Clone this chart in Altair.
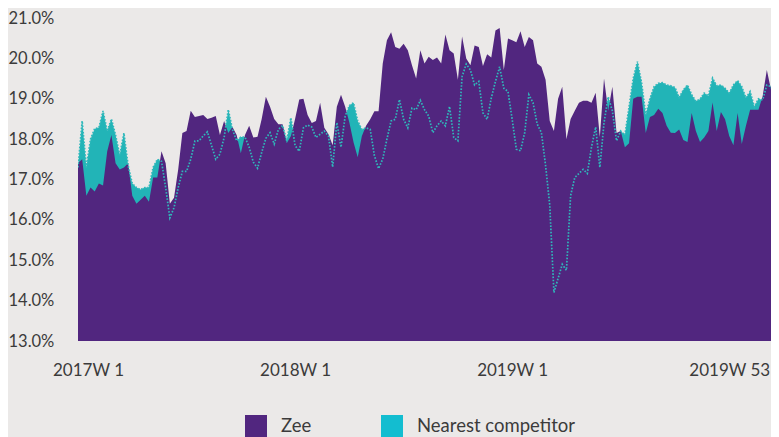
import altair as alt
import pandas as pd

# Weekly share (%), 2017W1 onward
zee = [17.4, 17.5, 16.6, 16.8, 16.7, 16.9, 16.85, 17.7, 18.1, 17.4,
       17.25, 17.3, 17.4, 16.6, 16.4, 16.5, 16.6, 16.45, 17.05, 17.05,
       17.7, 17.4, 16.4, 16.55, 17.25, 18.15, 18.2, 18.7, 18.55, 18.57,
       18.6, 18.5, 18.53, 18.57, 18.1, 18.45, 18.15, 18.3, 18.1, 17.65,
       18.1, 18.33, 18.04, 18.06, 18.5, 19.05, 18.8, 18.5, 18.37, 18.37,
       17.9, 18.08, 18.5, 18.98, 19.0, 18.6, 18.4, 18.45, 18.9, 18.28,
       18.12, 17.85, 18.8, 19.1, 18.8, 18.41, 17.92, 17.55, 18.08, 18.33,
       18.49, 18.69, 18.69, 19.87, 20.45, 20.65, 20.28, 20.24, 20.36, 20.2,
       19.83, 19.5, 20.2, 19.87, 20.04, 19.96, 20.02, 19.87, 20.59, 20.2,
       20.12, 19.47, 20.54, 20.0, 19.83, 20.32, 20.28, 19.81, 20.1, 20.02,
       20.69, 20.75, 19.71, 20.49, 20.45, 20.4, 20.67, 20.28, 20.53, 20.45,
       19.87, 19.79, 19.47, 18.45, 18.2, 19.0, 19.3, 18.0, 18.5, 18.7,
       18.9, 18.95, 18.95, 18.9, 19.15, 18.05, 19.5, 18.7, 19.3, 18.15,
       18.2, 17.8, 17.9, 19.0, 19.05, 19.05, 18.15, 18.55, 18.6, 18.75,
       18.65, 18.33, 18.16, 18.15, 18.24, 17.98, 17.93, 18.65, 18.2, 17.93,
       18.04, 18.2, 18.91, 18.2, 18.67, 18.49, 18.08, 17.85, 18.65, 17.88,
       18.33, 18.73, 18.73, 18.73, 19.06, 19.71, 19.22, 19.26, 19.18]

competitor = [17.3, 18.45, 17.3, 18.0, 18.26, 18.28, 18.7, 18.2, 18.5, 18.1,
              17.6, 18.15, 17.35, 16.9, 16.8, 16.75, 16.8, 16.8, 17.3, 17.5,
              17.45, 16.8, 16.05, 16.3, 16.8, 17.2, 17.2, 17.5, 17.95, 17.96,
              18.08, 18.18, 17.84, 17.5, 17.63, 18.04, 18.73, 18.24, 17.96, 18.05,
              18.05, 17.8, 17.43, 17.28, 17.67, 18.02, 18.16, 17.88, 18.24, 18.34,
              17.96, 18.53, 17.84, 17.7, 18.28, 18.35, 18.3, 18.04, 18.12, 18.2,
              18.08, 17.31, 18.41, 17.8, 18.57, 18.83, 18.9, 18.45, 18.24, 18.28,
              18.24, 17.59, 17.27, 17.51, 18.0, 18.45, 18.49, 18.98, 18.49, 18.28,
              18.77, 18.73, 18.96, 18.73, 18.57, 18.16, 18.33, 18.45, 18.33, 18.81,
              18.04, 17.96, 19.55, 19.86, 19.71, 19.34, 19.43, 18.65, 18.49, 19.02,
              19.43, 19.79, 19.26, 19.18, 18.49, 17.75, 17.71, 18.16, 19.1, 18.9,
              18.37, 18.16, 17.35, 16.37, 14.2, 14.55, 14.9, 14.75, 16.6, 17.05,
              17.15, 17.25, 17.15, 17.8, 18.3, 17.3, 18.4, 19.05, 18.7, 17.96,
              18.2, 18.1, 18.8, 19.5, 19.92, 19.4, 18.6, 19.0, 19.3, 19.38,
              19.4, 19.34, 19.32, 19.28, 19.03, 19.22, 19.34, 19.1, 18.94, 18.99,
              19.14, 19.07, 19.51, 19.32, 19.34, 19.26, 19.14, 19.34, 19.45, 19.3,
              19.02, 19.18, 18.8, 19.0, 18.97, 19.34, 19.3, 19.3, 19.14]

# axis label positions (week index) and texts
tick_weeks = [2.4, 52, 104, 156]
tick_labels = ["2017W 1", "2018W 1", "2019W 1", "2019W 53"]
y_ticks = [13, 14, 15, 16, 17, 18, 19, 20, 21]
series_names = ["Zee", "Nearest competitor"]
legend_colors = ["#51267F", "#13BDD0"]

FONT = "Lato"
TXT = "#3b3b3b"

df = pd.DataFrame({"week": list(range(len(zee))), "zee": zee, "comp": competitor})

label_expr = "''"
for w, lab in reversed(list(zip(tick_weeks, tick_labels))):
    label_expr = f"datum.value == {w} ? '{lab}' : ({label_expr})"

x_enc = alt.X(
    "week:Q",
    scale=alt.Scale(domain=[0, 166], nice=False, zero=False),
    axis=alt.Axis(values=tick_weeks, labelExpr=label_expr, grid=False, ticks=False,
                  domain=False, title=None, labelPadding=21, labelFontSize=17,
                  labelFont=FONT, labelColor=TXT, labelFlush=False),
)
y_scale = alt.Scale(domain=[13, 21], nice=False, zero=False)
y_axis = alt.Axis(values=y_ticks, labelExpr="format(datum.value, '.1f') + '%'",
                  grid=False, ticks=False, domain=False, title=None,
                  labelAlign="left", labelPadding=70, labelFontSize=16.5,
                  labelFont=FONT, labelColor=TXT)

comp_area = alt.Chart(df).mark_area(color="#22B4B7", clip=True).encode(
    x=x_enc,
    y=alt.Y("comp:Q", scale=y_scale, axis=y_axis),
    y2=alt.datum(13),
)
zee_area = alt.Chart(df).mark_area(color="#51267F", clip=True).encode(
    x=x_enc,
    y=alt.Y("zee:Q", scale=y_scale),
    y2=alt.datum(13),
)
comp_line = alt.Chart(df).mark_line(color="#2FB8BB", strokeWidth=1.7,
                                    strokeDash=[1.6, 1.6], clip=True).encode(
    x=x_enc,
    y=alt.Y("comp:Q", scale=y_scale),
)
legend_layer = alt.Chart(pd.DataFrame({"series": series_names})).mark_square(
    opacity=0, size=10).encode(
    x=alt.value(0),
    y=alt.value(0),
    color=alt.Color("series:N",
                    scale=alt.Scale(domain=series_names, range=legend_colors),
                    legend=alt.Legend(orient="none", legendX=167, legendY=397,
                                      direction="horizontal", title=None,
                                      symbolType="square", symbolSize=484,
                                      symbolOpacity=1, symbolStrokeWidth=0,
                                      labelFontSize=18.5, labelFont=FONT,
                                      labelColor=TXT, labelOffset=14,
                                      columnPadding=69)),
)

chart = alt.layer(comp_area, zee_area, comp_line, legend_layer).properties(
    width=693,
    height=323,
    autosize=alt.AutoSizeParams(type="none"),
    padding={"left": 70, "top": 10, "right": 0, "bottom": 96},
).configure(background="#EBE9E8").configure_view(stroke=None)

chart.save("out.html", embed_options={"renderer": "svg", "actions": False})
